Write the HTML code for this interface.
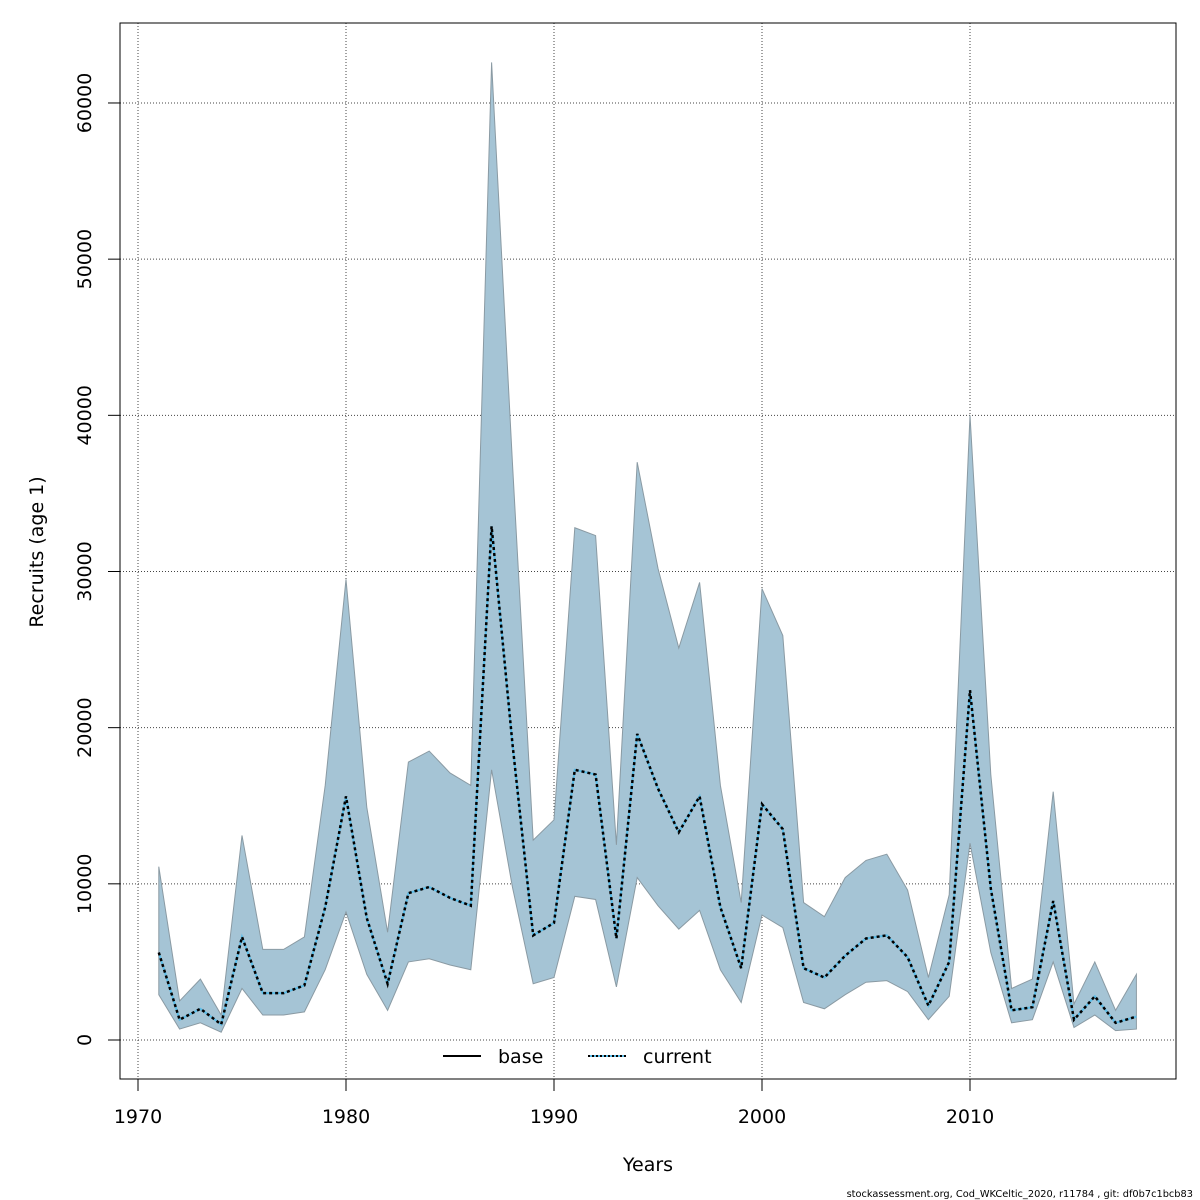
<!DOCTYPE html>
<html><head><meta charset="utf-8"><style>
body{margin:0;background:#fff}
svg{display:block;font-family:"DejaVu Sans","Liberation Sans",sans-serif}
</style></head><body>
<svg id="chart" width="1200" height="1200" viewBox="0 0 1200 1200">
<rect x="0" y="0" width="1200" height="1200" fill="#fff"/>
<g id="grid"></g>
<g id="marks"></g>
<g id="axes"></g>
<rect x="120" y="23" width="1056" height="1056" fill="none" stroke="#000" stroke-width="1"/>
<text x="648" y="1171" font-size="19" text-anchor="middle">Years</text>
<text transform="translate(43,552) rotate(-90)" font-size="19" text-anchor="middle">Recruits (age 1)</text>
<g>
<line x1="443" y1="1056" x2="481" y2="1056" stroke="#000" stroke-width="2"/>
<text x="498" y="1063" font-size="19">base</text>
<line x1="588" y1="1056" x2="626" y2="1056" stroke="#5bbde8" stroke-width="2"/>
<line x1="588" y1="1056" x2="626" y2="1056" stroke="#000" stroke-width="2" stroke-dasharray="2,2"/>
<text x="643" y="1063" font-size="19">current</text>
</g>
<text x="1193" y="1197" font-size="9.8" text-anchor="end">stockassessment.org, Cod_WKCeltic_2020, r11784 , git: df0b7c1bcb83</text>
</svg>
<script>
const years=[1971,1972,1973,1974,1975,1976,1977,1978,1979,1980,1981,1982,1983,1984,1985,1986,1987,1988,1989,1990,1991,1992,1993,1994,1995,1996,1997,1998,1999,2000,2001,2002,2003,2004,2005,2006,2007,2008,2009,2010,2011,2012,2013,2014,2015,2016,2017,2018];
const recruits=[5600,1300,2000,1000,6600,3000,3000,3500,8500,15600,7800,3600,9400,9800,9100,8600,32900,19000,6700,7500,17300,17000,6500,19600,16100,13300,15600,8500,4600,15100,13500,4600,4000,5400,6500,6700,5300,2200,5000,22400,9700,1900,2100,8900,1300,2800,1100,1500];
const upper=[11100,2500,3900,1600,13100,5800,5800,6600,16300,29500,14900,6900,17800,18500,17100,16300,62600,37000,12800,14100,32800,32300,12500,37000,30200,25100,29300,16300,8800,28900,25900,8800,7900,10400,11500,11900,9600,4000,9300,40000,17000,3300,3900,15900,2300,5000,1900,4200];
const lower=[2900,700,1100,500,3300,1600,1600,1800,4500,8200,4200,1900,5000,5200,4800,4500,17300,9800,3600,4000,9200,9000,3400,10400,8600,7100,8300,4500,2400,8000,7200,2400,2000,2900,3700,3800,3100,1300,2800,12600,5600,1100,1300,5000,800,1600,600,700];
const xTicks=[1970,1980,1990,2000,2010];
const yTicks=[0,10000,20000,30000,40000,50000,60000];

const X=v=>138+(v-1970)*20.8;
const Y=v=>1040-v*0.015617;
const NS="http://www.w3.org/2000/svg";
function mk(tag,attrs,parent){const e=document.createElementNS(NS,tag);for(const k in attrs)e.setAttribute(k,attrs[k]);parent.appendChild(e);return e;}
const grid=document.getElementById('grid'),marks=document.getElementById('marks'),axes=document.getElementById('axes');

xTicks.forEach(t=>{
  const g=mk('line',{x1:X(t),x2:X(t),y1:23,y2:1079,stroke:'#444','stroke-width':1,'stroke-dasharray':'1,2'},grid);
  
  
  const tk=mk('line',{x1:X(t),x2:X(t),y1:1079,y2:1091,stroke:'#000'},axes);
  
  
  const tx=mk('text',{x:X(t),y:1123,'font-size':19,'text-anchor':'middle'},axes);
  tx.textContent=t;
  
  
});
yTicks.forEach(t=>{
  const g=mk('line',{x1:120,x2:1176,y1:Y(t),y2:Y(t),stroke:'#444','stroke-width':1,'stroke-dasharray':'1,2'},grid);
  
  
  const tk=mk('line',{x1:108,x2:120,y1:Y(t),y2:Y(t),stroke:'#000'},axes);
  
  
  const tx=mk('text',{x:91,y:Y(t),'font-size':19,'text-anchor':'middle',transform:`rotate(-90,91,${Y(t)})`},axes);
  tx.textContent=t;
  
  
});

let pts=years.map((y,i)=>X(y)+','+Y(upper[i]));
for(let i=years.length-1;i>=0;i--)pts.push(X(years[i])+','+Y(lower[i]));
const band=mk('polygon',{points:pts.join(' '),fill:'#a5c4d5',stroke:'#8a9aa3','stroke-width':1},marks);



const lp=years.map((y,i)=>X(y)+','+Y(recruits[i])).join(' ');
const base=mk('polyline',{points:lp,fill:'none',stroke:'#5bbde8','stroke-width':2},marks);


const cur=mk('polyline',{points:lp,fill:'none',stroke:'#000','stroke-width':2.5,'stroke-dasharray':'3,3'},marks);


</script>
</body></html>
